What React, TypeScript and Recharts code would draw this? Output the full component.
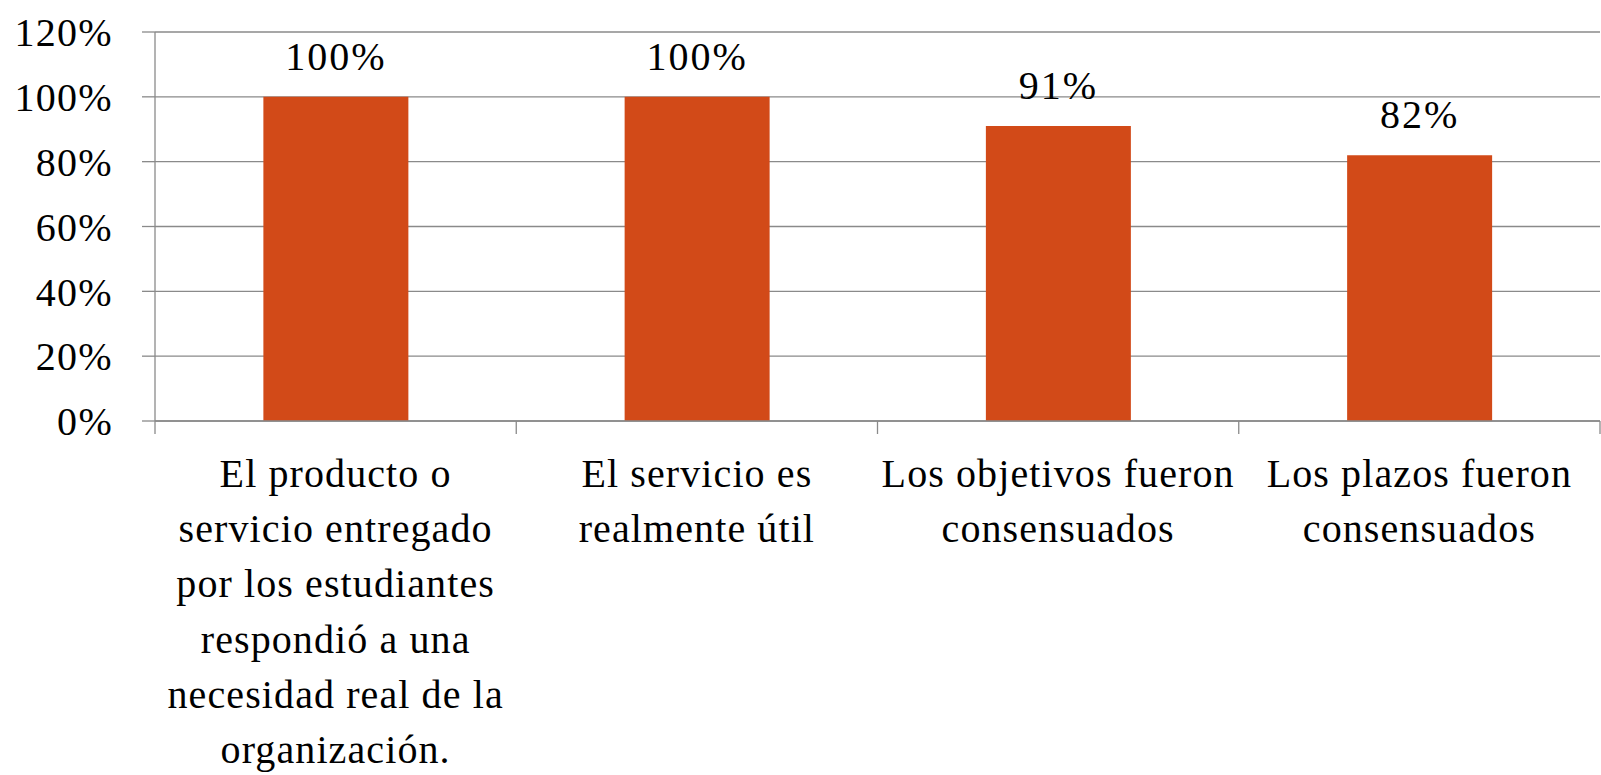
import { BarChart, Bar, XAxis, YAxis, CartesianGrid, LabelList } from 'recharts'

const categories = [
  'El producto o\nservicio entregado\npor los estudiantes\nrespondió a una\nnecesidad real de la\norganización.',
  'El servicio es\nrealmente útil',
  'Los objetivos fueron\nconsensuados',
  'Los plazos fueron\nconsensuados',
]
const values = [1, 1, 0.91, 0.82]
const yTicks = [0, 0.2, 0.4, 0.6, 0.8, 1, 1.2]

const W = 1601
const H = 775
const LEFT = 155
const RIGHT = 1
const FONT = "'Liberation Serif', 'Times New Roman', Times, serif"
const GRID = '#8a8a8a'

const data = categories.map((name, i) => ({ name, value: values[i] }))
const pct = (v: number) => `${Math.round(v * 100)}%`

function CategoryTick(props: any) {
  const { x, y, payload, index } = props
  const lines = String(payload.value).split('\n')
  const half = (W - LEFT - RIGHT) / categories.length / 2
  const axisY = y
  return (
    <g>
      <line x1={x - half} x2={x - half} y1={axisY} y2={axisY + 13} stroke={GRID} strokeWidth={1.3} />
      {index === categories.length - 1 && (
        <line x1={x + half} x2={x + half} y1={axisY} y2={axisY + 13} stroke={GRID} strokeWidth={1.3} />
      )}
      <text
        x={x}
        y={axisY + 66}
        textAnchor="middle"
        fontFamily={FONT}
        fontSize={40}
        letterSpacing={1.1}
        fill="#000"
      >
        {lines.map((l, i) => (
          <tspan key={i} x={x} dy={i === 0 ? 0 : 55.2}>
            {l}
          </tspan>
        ))}
      </text>
    </g>
  )
}

function TopLabel(props: any) {
  const { x, y, width, value } = props
  return (
    <text
      x={x + width / 2}
      y={y - 27}
      textAnchor="middle"
      fontFamily={FONT}
      fontSize={40}
      letterSpacing={2}
      fill="#000"
    >
      {pct(value)}
    </text>
  )
}

export default function App() {
  return (
    <div style={{ position: 'absolute', left: 0, top: 0, background: '#fff' }}>
      <BarChart
        width={W}
        height={H}
        data={data}
        margin={{ top: 32, right: RIGHT, left: 0, bottom: 0 }}
        barCategoryGap="30%"
      >
        <CartesianGrid vertical={false} stroke={GRID} strokeWidth={1.3} />
        <XAxis
          dataKey="name"
          height={H - 421}
          tickLine={false}
          tickSize={0}
          tickMargin={0}
          axisLine={{ stroke: GRID, strokeWidth: 1.3 }}
          tick={<CategoryTick />}
          interval={0}
        />
        <YAxis
          width={LEFT}
          domain={[0, 1.2]}
          ticks={yTicks}
          tickFormatter={pct}
          tickSize={13}
          tickMargin={29}
          axisLine={{ stroke: GRID, strokeWidth: 1.3 }}
          tickLine={{ stroke: GRID, strokeWidth: 1.3 }}
          tick={{ fontFamily: FONT, fontSize: 40, letterSpacing: 1.3, fill: '#000' }}
        />
        <Bar dataKey="value" fill="#D24A18" isAnimationActive={false}>
          <LabelList dataKey="value" content={<TopLabel />} />
        </Bar>
      </BarChart>
    </div>
  )
}
